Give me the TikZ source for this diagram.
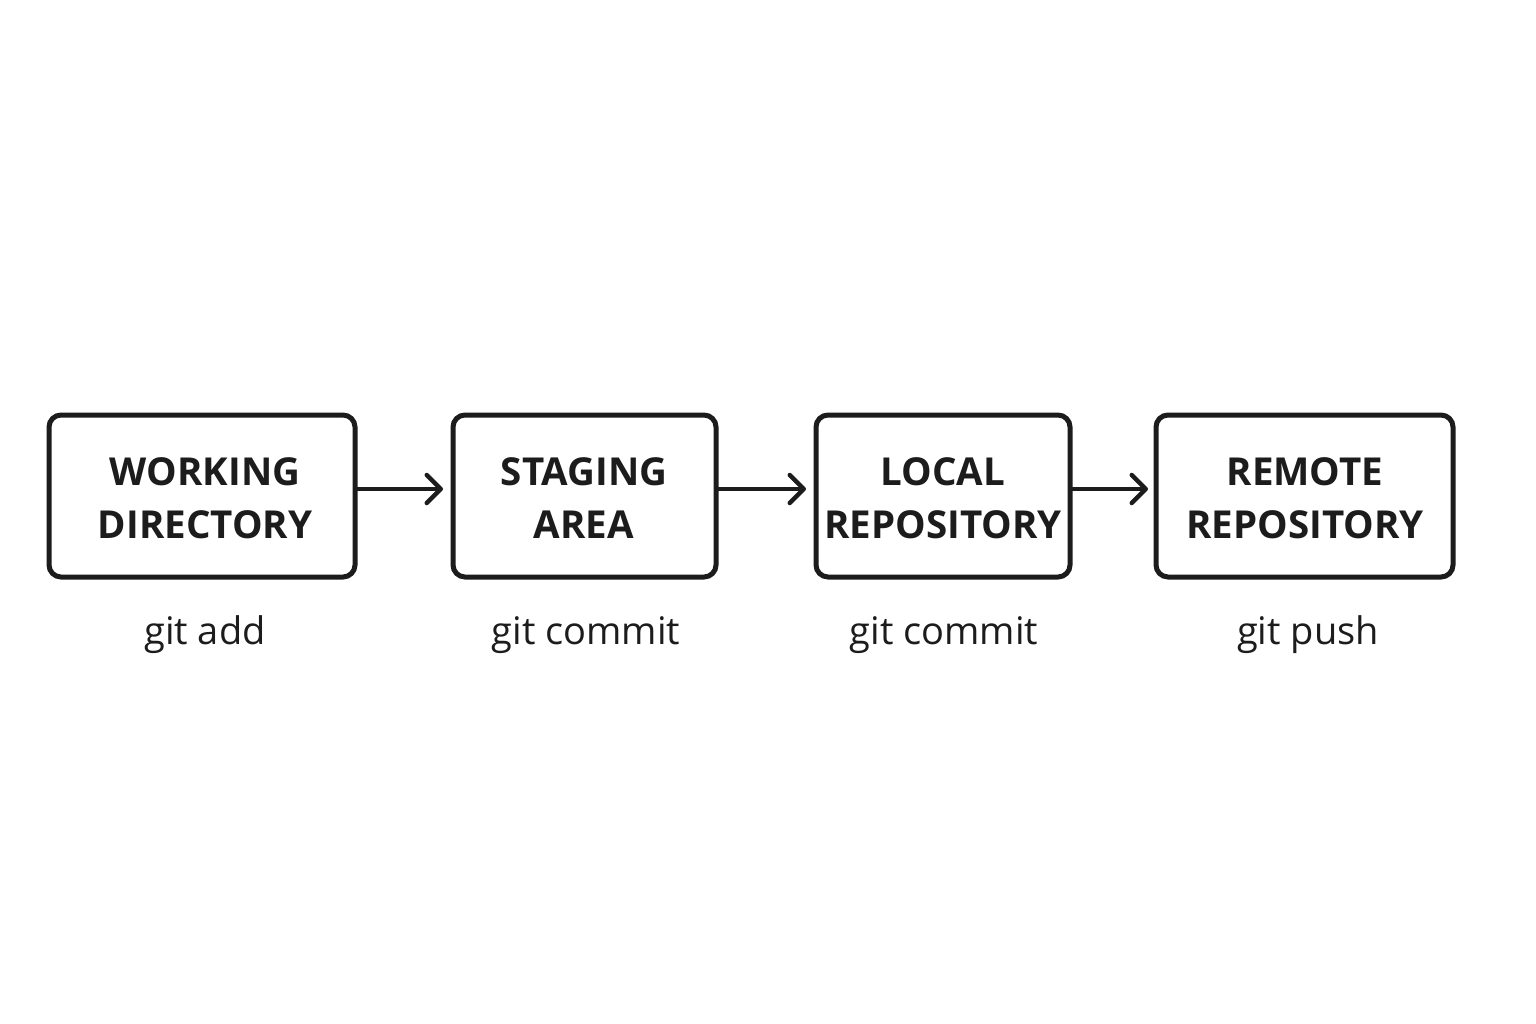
\documentclass[tikz,border=0pt]{standalone}
\usepackage{fontspec}
\setmainfont{Open Sans}
\usetikzlibrary{arrows.meta}
\definecolor{ink}{HTML}{1C1C1C}
\begin{document}
\begin{tikzpicture}[x=1pt,y=-1pt,
  stagebox/.style={draw=ink, line width=5pt, rounded corners=12pt, fill=white},
  stagetext/.style={font=\bfseries\fontsize{38.5}{53}\selectfont, text=ink, align=center},
  cmdtext/.style={font=\fontsize{38}{44}\selectfont, text=ink},
  flow/.style={draw=ink, line width=4.5pt, -{Straight Barb[length=14pt, width=28pt, line cap=round, line join=round]}}]
\useasboundingbox (0,0) rectangle (1536,1024);
\fill[white] (0,0) rectangle (1536,1024);
% boxes
\path[stagebox] (49,415) rectangle (355,577);
\path[stagebox] (453,415) rectangle (716,577);
\path[stagebox] (816,415) rectangle (1070,577);
\path[stagebox] (1156,415) rectangle (1453,577);
\coordinate (b1e) at (355,489);
\coordinate (b2w) at (453,489);
\coordinate (b2e) at (716,489);
\coordinate (b3w) at (816,489);
\coordinate (b3e) at (1070,489);
\coordinate (b4w) at (1156,489);
\node[stagetext] (t1) at (205,498) {WORKING\\DIRECTORY};
\node[stagetext] (t2) at (584,498) {STAGING\\AREA};
\node[stagetext] (t3) at (943,498) {LOCAL\\REPOSITORY};
\node[stagetext] (t4) at (1305,498) {REMOTE\\REPOSITORY};
\node[cmdtext] (c1) at (205,635) {git add};
\node[cmdtext] (c2) at (586,635) {git commit};
\node[cmdtext] (c3) at (944,635) {git commit};
\node[cmdtext] (c4) at (1308,635) {git push};
\draw[flow] (b1e) -- ([xshift=-10pt]b2w);
\draw[flow] (b2e) -- ([xshift=-10pt]b3w);
\draw[flow] (b3e) -- ([xshift=-8pt]b4w);
\end{tikzpicture}
\end{document}
